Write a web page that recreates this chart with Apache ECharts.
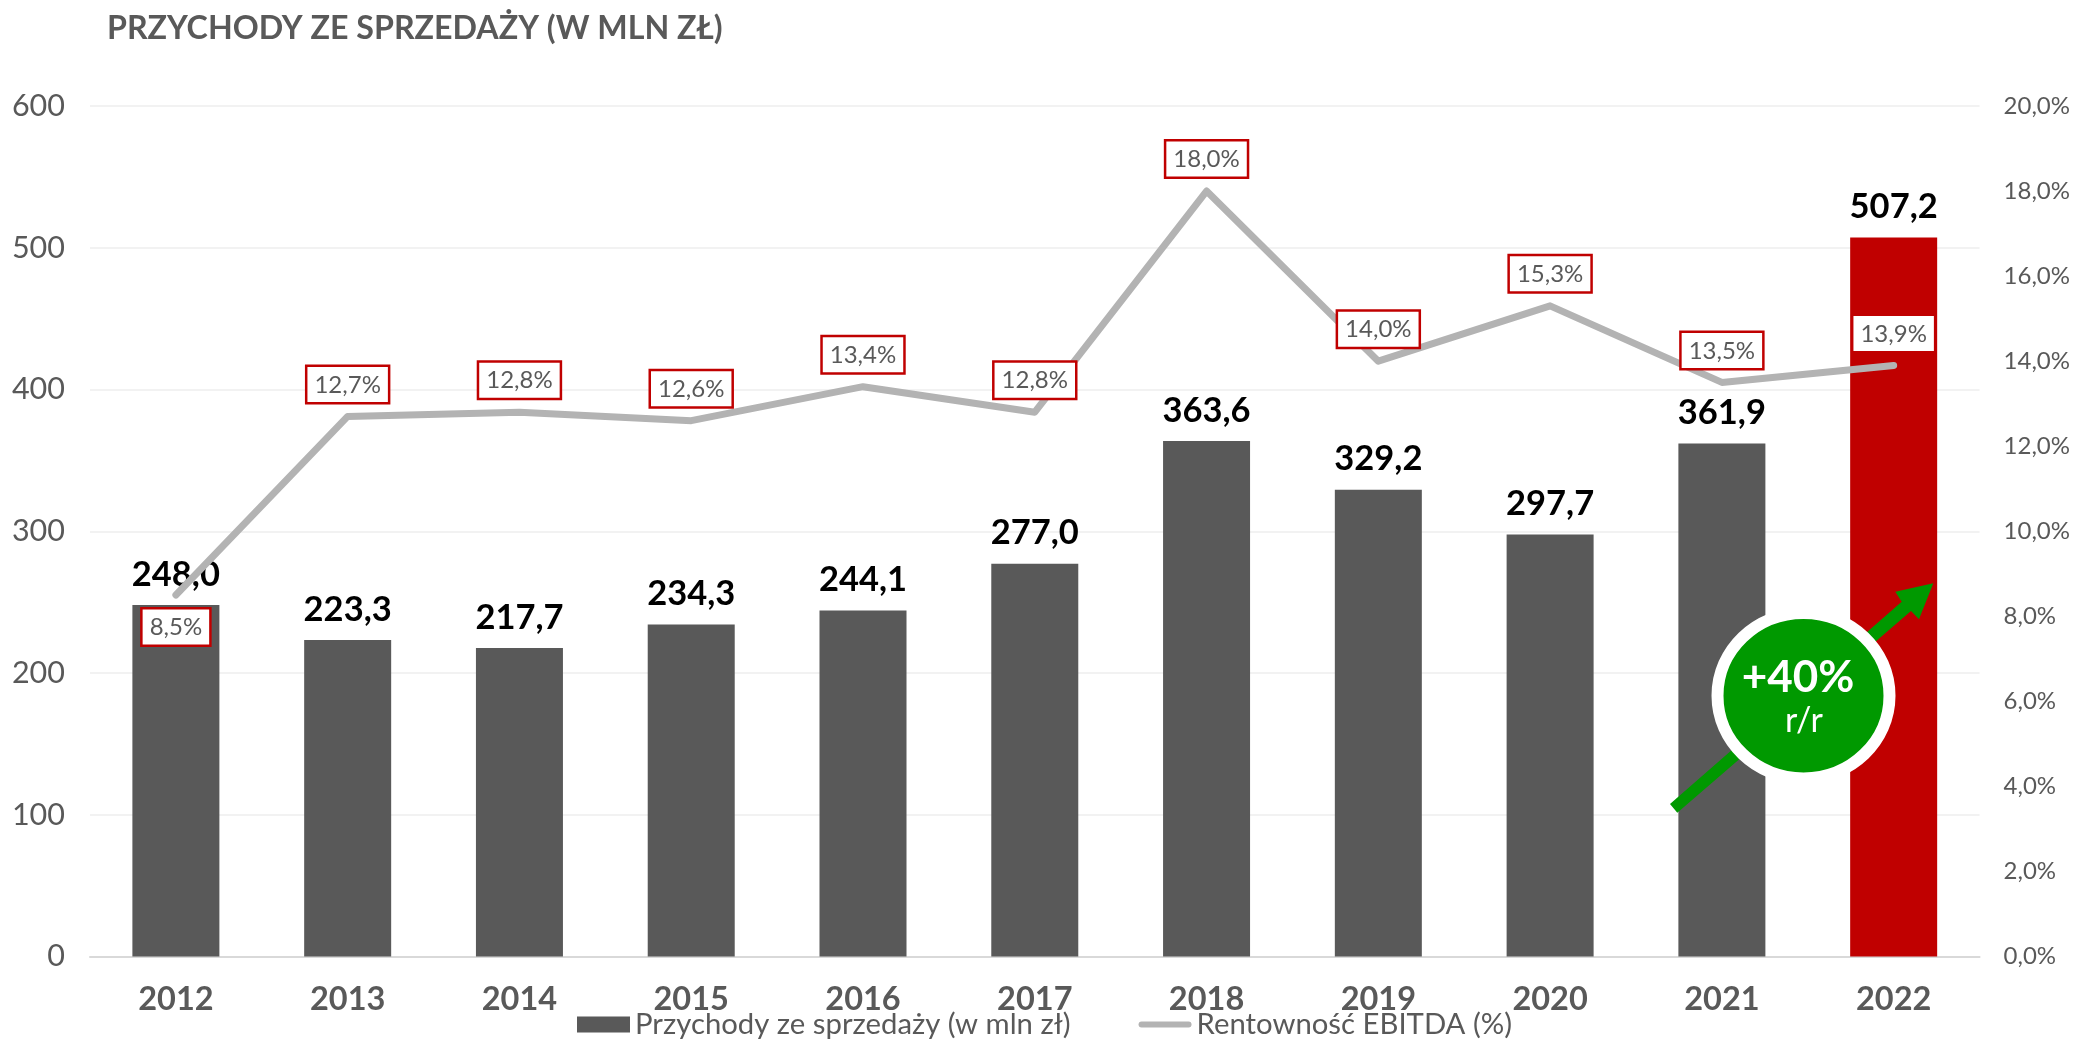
<!DOCTYPE html>
<html>
<head>
<meta charset="utf-8">
<style>html,body{margin:0;padding:0;background:#fff}#c{width:2073px;height:1041px}</style>
<script src="https://cdn.jsdelivr.net/npm/echarts@6/dist/echarts.min.js"></script>
</head>
<body>
<div id="c"></div>
<script>
const categories = ['2012','2013','2014','2015','2016','2017','2018','2019','2020','2021','2022'];
const revenue = [248.0,223.3,217.7,234.3,244.1,277.0,363.6,329.2,297.7,361.9,507.2];
const ebitda = [8.5,12.7,12.8,12.6,13.4,12.8,18.0,14.0,15.3,13.5,13.9];
const revenueName = 'Przychody ze sprzedaży (w mln zł)';
const ebitdaName = 'Rentowność EBITDA (%)';
const titleText = 'PRZYCHODY ZE SPRZEDAŻY (W MLN ZŁ)';
const badgeMain = '+40%';
const badgeSub = 'r/r';

const GREY = '#595959', RED = '#C00000', GREEN = '#009900', LINE = '#B3B3B3', FONT = 'Lato';
const comma = (v, d) => v.toFixed(d).replace('.', ',');

const chart = echarts.init(document.getElementById('c'), null, {renderer:'canvas'});
chart.setOption({
  animation:false,
  backgroundColor:'#fff',
  textStyle:{fontFamily:FONT},
  title:{text:titleText,left:102,top:8,textStyle:{fontFamily:FONT,fontSize:32.2,fontWeight:'bold',color:GREY}},
  legend:{
    left:577,top:1010,padding:0,itemWidth:53,itemHeight:16,itemGap:68,
    textStyle:{fontFamily:FONT,fontSize:29.3,color:GREY},
    data:[
      {name:revenueName,icon:'rect',itemStyle:{color:GREY}},
      {name:ebitdaName,icon:'path://M3,0H50A3,3 0 0 1 50,6H3A3,3 0 0 1 3,0Z',itemStyle:{color:LINE}}
    ]
  },
  grid:{left:90,right:91.5,top:106,bottom:84.5},
  xAxis:{
    type:'category',data:categories,
    axisLine:{lineStyle:{color:'#D9D9D9',width:2}},axisTick:{show:false},
    axisLabel:{margin:27,fontFamily:FONT,fontSize:32.5,fontWeight:'bold',color:GREY}
  },
  yAxis:[
    {type:'value',min:0,max:600,interval:100,
     axisLine:{show:false},axisTick:{show:false},
     splitLine:{lineStyle:{color:'#F2F2F2',width:2}},
     axisLabel:{margin:25,fontFamily:FONT,fontSize:30.5,color:GREY}},
    {type:'value',min:0,max:20,interval:2,
     axisLine:{show:false},axisTick:{show:false},splitLine:{show:false},
     axisLabel:{margin:24,fontFamily:FONT,fontSize:24,color:GREY,formatter:v=>comma(v,1)+'%'}}
  ],
  series:[
    {name:revenueName,type:'bar',barWidth:87,yAxisIndex:0,z:2,
     itemStyle:{color:GREY},
     data:revenue.map((v,i)=>i===revenue.length-1?{value:v,itemStyle:{color:RED}}:v),
     label:{show:true,position:'top',distance:13,fontFamily:FONT,fontSize:34.5,fontWeight:'bold',color:'#000',
       formatter:p=>comma(p.value,1)}},
    {name:ebitdaName,type:'line',yAxisIndex:1,z:3,symbol:'circle',symbolSize:1,showSymbol:true,symbolKeepAspect:true,
     lineStyle:{color:LINE,width:7,cap:'round',join:'round'},itemStyle:{color:LINE},
     data:ebitda.map((v,i)=>i===0?{value:v,label:{position:'bottom'}}:v),
     label:{show:true,position:'top',distance:14,fontFamily:FONT,fontSize:24,color:GREY,
       backgroundColor:'#fff',borderColor:RED,borderWidth:2.5,padding:[6,7,5,7],
       formatter:p=>comma(p.value,1)+'%'}}
  ],
  graphic:[
    {type:'polygon',z:50,shape:{points:[[1670,804],[1901.7,601.7],[1895.3,591.7],[1933.3,583.3],[1919,619.3],[1911,611],[1677.3,812.7]]},style:{fill:GREEN}},
    {type:'ellipse',z:51,shape:{cx:1803.5,cy:695.7,rx:86,ry:82.7},style:{fill:GREEN,stroke:'#fff',lineWidth:12}},
    {type:'text',z:52,style:{text:badgeMain,x:1798,y:678,align:'center',verticalAlign:'middle',fontFamily:FONT,fontSize:44,fontWeight:'bold',fill:'#fff'}},
    {type:'text',z:52,style:{text:badgeSub,x:1804,y:721,align:'center',verticalAlign:'middle',fontFamily:FONT,fontSize:34,fill:'#fff'}}
  ]
});
</script>
</body>
</html>
